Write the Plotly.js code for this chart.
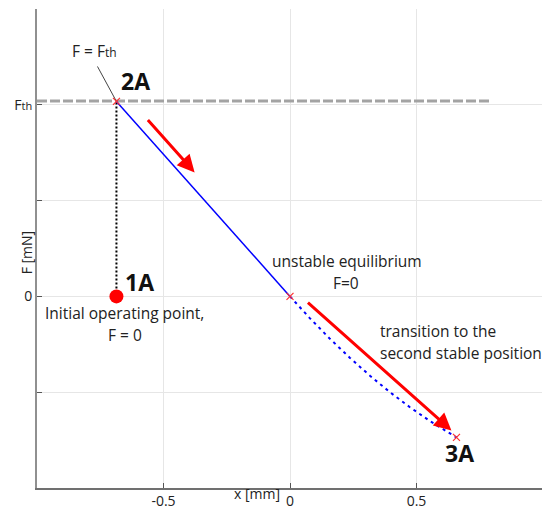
<!DOCTYPE html>
<html><head><meta charset="utf-8">
<script src="https://cdn.plot.ly/plotly-3.0.1.min.js"></script>
<style>html,body{margin:0;padding:0;background:#fff}</style>
</head><body>
<div id="chart" style="width:542px;height:514px"></div>
<script>
// Data (x in mm, F in grid units where the Fth tick = 2)
const xTickVals = [-0.5, 0, 0.5];
const xTickText = ['-0.5', '0', '0.5'];
const yTickVals = [0, 2];
const yTickText = ['0', 'F<span style="font-size:11px">th</span>'];
const yMinorVals = [-1, 1, 3];

const fthLevel = 2.04;
const fthLineX = [-1, 0.79];
const fthLineY = [fthLevel, fthLevel];

const point1A = {x: -0.686, y: 0};
const point2A = {x: -0.686, y: 2.035};
const pointUnstable = {x: 0, y: 0};
const point3A = {x: 0.658, y: -1.472};

const stableX = [-0.686, 0];
const stableY = [2.035, 0];

const transX = [0, 0.079, 0.158, 0.237, 0.316, 0.395, 0.474, 0.553, 0.658];
const transY = [0, -0.229, -0.443, -0.642, -0.828, -1.000, -1.157, -1.301, -1.472];

const verticalX = [-0.686, -0.686];
const verticalY = [0, 2.035];

const leaderX = [-0.761, -0.686];
const leaderY = [2.40, 2.035];

const arrow1 = {x0: -0.567, y0: 1.858, x1: -0.377, y1: 1.294};
const arrow2 = {x0: 0.065, y0: -0.052, x1: 0.638, y1: -1.399};

const FONT = 'Open Sans, Noto Sans, sans-serif';
const TXT = 15.5;

const traces = [
  {x: fthLineX, y: fthLineY, mode: 'lines', line: {color: '#a3a3a3', width: 3, dash: '10px,3px'}, hoverinfo: 'skip'},
  {x: verticalX, y: verticalY, mode: 'lines', line: {color: '#000', width: 2, dash: '2px,2px'}, hoverinfo: 'skip'},
  {x: stableX, y: stableY, mode: 'lines', line: {color: '#0000ff', width: 1.5}, hoverinfo: 'skip'},
  {x: transX, y: transY, mode: 'lines', line: {color: '#0000ff', width: 2, dash: '3px,4px'}, hoverinfo: 'skip'},
  {x: leaderX, y: leaderY, mode: 'lines', line: {color: '#444', width: 1}, hoverinfo: 'skip'},
  {x: [point1A.x], y: [point1A.y], mode: 'markers', marker: {color: '#ff0000', size: 14}, hoverinfo: 'skip'},
  {x: [point2A.x, pointUnstable.x, point3A.x], y: [point2A.y, pointUnstable.y, point3A.y], mode: 'markers',
   marker: {symbol: 'x-thin', color: '#ff3030', size: 7, line: {color: '#ff3030', width: 1.2}}, hoverinfo: 'skip'}
];

function arrow(a) {
  return {x: a.x1, y: a.y1, ax: a.x0, ay: a.y0, xref: 'x', yref: 'y', axref: 'x', ayref: 'y',
    text: '', showarrow: true, arrowhead: 2, arrowsize: 1.15, arrowwidth: 3, arrowcolor: '#ff0000'};
}
function label(x, y, text, opts) {
  return Object.assign({x: x, y: y, xref: 'x', yref: 'y', text: text, showarrow: false,
    font: {family: FONT, size: TXT, color: '#222'}}, opts || {});
}
const boldFont = {family: FONT, size: 23, color: '#111', weight: 'bold'};

const annotations = [
  arrow(arrow1), arrow(arrow2),
  label(-0.773, 2.557, 'F = F<span style="font-size:12px">th</span>'),
  label(-0.611, 2.244, '<b>2A</b>', {font: boldFont}),
  label(-0.593, 0.146, '<b>1A</b>', {font: boldFont}),
  label(0.668, -1.639, '<b>3A</b>', {font: boldFont}),
  label(-0.978, -0.177, 'Initial operating point,', {xanchor: 'left'}),
  label(-0.652, -0.407, 'F = 0'),
  label(0.227, 0.365, 'unstable equilibrium'),
  label(0.223, 0.136, 'F=0'),
  label(0.346, -0.365, 'transition to the', {xanchor: 'left'}),
  label(0.346, -0.595, 'second stable position', {xanchor: 'left'}),
  {x: -0.0436, y: 0.493, xref: 'paper', yref: 'paper', text: 'F [mN]', textangle: -90, showarrow: false,
   font: {family: FONT, size: 14, color: '#222'}},
  {x: 0.4356, y: -0.0355, xref: 'paper', yref: 'paper', text: 'x [mm]', showarrow: false,
   font: {family: FONT, size: 14, color: '#222'}}
];

const layout = {
  width: 542, height: 514,
  margin: {l: 37, r: 0, t: 9, b: 26},
  paper_bgcolor: '#fff', plot_bgcolor: '#fff',
  showlegend: false,
  font: {family: FONT, size: 14, color: '#222'},
  xaxis: {range: [-1, 0.996], tickmode: 'array', tickvals: xTickVals, ticktext: xTickText, showgrid: true, gridcolor: '#e6e6e6',
    zeroline: false, showline: true, linecolor: '#707070', linewidth: 1.5, ticks: 'inside', ticklen: 5,
    tickcolor: '#555', tickfont: {family: FONT, size: 14, color: '#222'}},
  yaxis: {range: [-2, 3], tickmode: 'array', tickvals: yTickVals, ticktext: yTickText, showgrid: true, gridcolor: '#e6e6e6',
    zeroline: false, showline: true, linecolor: '#909090', linewidth: 2, ticks: 'inside', ticklen: 5,
    tickcolor: '#555', tickfont: {family: FONT, size: 14, color: '#222'},
    minor: {tickmode: 'array', tickvals: yMinorVals, showgrid: true, gridcolor: '#e6e6e6', ticks: 'inside', ticklen: 5, tickcolor: '#555'}},
  annotations: annotations
};

Plotly.newPlot('chart', traces, layout, {displayModeBar: false, staticPlot: true});
</script>
</body></html>
